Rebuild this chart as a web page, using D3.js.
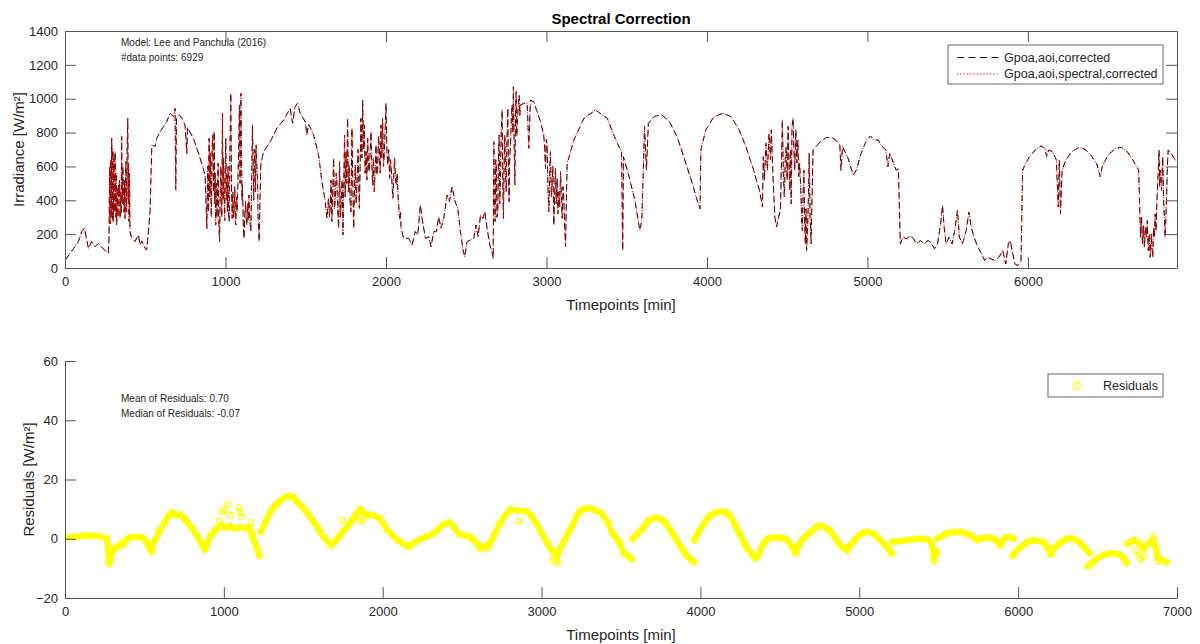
<!DOCTYPE html>
<html>
<head>
<meta charset="utf-8">
<script src="https://cdn.jsdelivr.net/npm/d3@7"></script>
<style>
  html, body { margin: 0; padding: 0; background: #fff; }
  svg { display: block; font-family: "Liberation Sans", Arial, Helvetica, sans-serif; }
</style>
</head>
<body>
<svg id="chart" width="1200" height="644"></svg>
<script>
// ---------------- DATA ----------------
const chartTitle = "Spectral Correction";
const seriesNames = ["Gpoa,aoi,corrected", "Gpoa,aoi,spectral,corrected"];
const residualName = "Residuals";
const topAnnotations = ["Model: Lee and Panchula (2016)", "#data points: 6929"];
const bottomAnnotations = ["Mean of Residuals: 0.70", "Median of Residuals: -0.07"];
const topXTicks = [0, 1000, 2000, 3000, 4000, 5000, 6000];
const topYTicks = [0, 200, 400, 600, 800, 1000, 1200, 1400];
const bottomXTicks = [0, 1000, 2000, 3000, 4000, 5000, 6000, 7000];
const bottomYTicks = [-20, 0, 20, 40, 60];

// rows: [timepoint (min), Gpoa,aoi,corrected, Gpoa,aoi,spectral,corrected]  (W/m²)
const irradiance = [
[4,50,50],[44,103,103],[83,156,156],[104,215,215],[121,234,234],[146,116,116],[166,156,156],[187,126,126],[208,146,146],[235,116,116],[260,96,96],[270,87,87],
[274,175,175],[278,600,600],[281,260,260],[285,640,640],[288,300,300],[291,766,766],[295,280,280],[298,700,700],[301,274,274],[305,650,650],[308,330,330],[312,687,687],[316,300,300],[319,560,560],[322,254,254],[326,480,480],[330,300,300],[333,490,490],[337,420,420],[340,520,520],[343,293,293],[347,450,450],[350,320,320],[353,776,776],[357,380,380],[360,600,600],[364,451,451],[368,330,330],[371,520,520],[374,293,293],[377,560,560],[380,628,628],[384,330,330],[387,700,700],[391,884,884],[394,400,400],[396,620,620],[399,274,274],[402,560,560],[405,215,215],
[416,175,175],[436,156,156],[457,195,195],[468,136,136],[478,160,160],[499,116,116],[509,106,106],[520,215,215],[530,333,333],[541,727,727],[561,717,717],[572,766,766],[593,805,805],[634,864,864],[655,914,914],[676,894,894],[686,943,943],[690,461,461],[695,884,884],[713,904,904],[728,884,884],[748,845,845],[759,677,677],[763,830,830],[800,766,766],[842,648,648],[873,549,549],
[884,234,234],[889,600,600],[893,330,330],[898,766,766],[902,420,420],[905,680,680],[908,490,490],[912,300,300],[916,700,700],[921,786,786],[925,450,450],[929,805,805],[933,380,380],[936,560,560],[939,254,254],[943,500,500],[947,300,300],[950,411,411],[954,620,620],[958,280,280],[963,156,156],[967,420,420],[970,600,600],[973,510,510],[977,300,300],[981,914,914],[985,400,400],[988,650,650],[991,490,490],[995,280,280],[999,600,600],[1002,766,766],[1006,400,400],[1009,550,550],[1012,333,333],[1016,600,600],[1020,300,300],[1023,274,274],[1028,700,700],[1033,1032,1032],[1037,500,500],[1042,293,293],[1046,450,450],[1050,300,300],[1054,352,352],[1058,480,480],[1061,280,280],[1064,254,254],[1068,420,420],[1072,330,330],[1077,490,490],[1082,700,700],[1087,963,963],[1091,500,500],[1096,1032,1032],[1100,650,650],[1103,400,400],[1106,490,490],[1110,300,300],[1113,200,200],[1116,175,175],[1120,300,300],[1125,392,392],[1129,300,300],[1133,254,254],[1138,380,380],[1142,280,280],[1146,431,431],[1150,320,320],[1154,260,260],[1158,215,215],[1163,500,500],[1168,845,845],[1172,650,650],[1176,400,400],[1179,589,589],[1183,700,700],[1187,450,450],[1191,727,727],[1195,600,600],[1199,549,549],[1203,300,300],[1207,220,220],[1210,156,156],[1215,400,400],[1220,608,608],
[1237,687,687],[1279,746,746],[1320,825,825],[1362,874,874],[1403,943,943],[1418,855,855],[1434,953,953],[1449,973,973],[1466,914,914],[1497,864,864],[1507,786,786],[1518,850,850],[1549,786,786],[1580,668,668],[1601,510,510],[1622,392,392],[1632,293,293],
[1642,411,411],[1648,300,300],[1653,372,372],[1658,520,520],[1663,274,274],[1668,450,450],[1674,648,648],[1679,350,350],[1684,400,400],[1690,560,560],[1695,490,490],[1700,320,320],[1705,234,234],[1708,450,450],[1711,628,628],[1716,300,300],[1722,400,400],[1727,520,520],[1732,195,195],[1737,500,500],[1742,786,786],[1746,420,420],[1751,687,687],[1756,500,500],[1761,884,884],[1766,450,450],[1771,608,608],[1776,400,400],[1782,333,333],[1785,600,600],[1788,825,825],[1794,450,450],[1799,234,234],[1804,480,480],[1809,608,608],[1814,380,380],[1819,490,490],[1826,700,700],[1834,352,352],[1839,600,600],[1844,884,884],[1850,650,650],[1855,992,992],[1860,700,700],[1865,845,845],[1870,560,560],[1876,687,687],[1881,520,520],[1886,766,766],[1891,600,600],[1896,569,569],[1902,700,700],[1907,805,805],[1912,620,620],[1917,490,490],[1922,650,650],[1927,451,451],[1933,600,600],[1938,727,727],[1943,550,550],[1948,589,589],[1954,780,780],[1959,687,687],[1964,560,560],[1969,845,845],[1974,650,650],[1979,884,884],[1985,600,600],[1990,687,687],[1995,820,820],[2000,973,973],[2006,700,700],[2011,608,608],[2017,700,700],[2023,530,530],[2028,640,640],[2033,589,589],[2039,470,470],[2044,411,411],[2049,560,560],[2054,648,648],[2060,520,520],[2065,490,490],[2070,560,560],[2075,431,431],[2080,360,360],[2085,293,293],[2090,330,330],[2094,234,234],
[2110,175,175],[2142,175,175],[2162,136,136],[2183,215,215],[2198,195,195],[2214,372,372],[2225,293,293],[2246,175,175],[2266,185,185],[2281,126,126],[2298,215,215],[2314,215,215],[2329,303,303],[2343,234,234],[2360,293,293],[2381,431,431],[2395,392,392],[2412,480,480],[2428,402,402],[2447,352,352],[2464,215,215],[2480,106,106],[2491,67,67],[2505,156,156],[2526,165,165],[2547,175,175],[2561,254,254],[2574,185,185],[2589,313,313],[2605,293,293],[2616,333,333],[2630,234,234],[2647,136,136],[2661,96,96],[2668,57,57],
[2672,746,746],[2676,420,420],[2680,274,274],[2684,640,640],[2688,589,589],[2692,300,300],[2697,333,333],[2701,650,650],[2705,786,786],[2709,380,380],[2713,490,490],[2718,800,800],[2724,933,933],[2728,500,500],[2732,293,293],[2736,600,600],[2740,786,786],[2745,560,560],[2749,451,451],[2754,750,750],[2759,943,943],[2763,600,600],[2767,392,392],[2771,650,650],[2776,727,727],[2781,880,880],[2786,963,963],[2790,800,800],[2794,1071,1071],[2799,700,700],[2803,490,490],[2807,900,900],[2811,1042,1042],[2815,780,780],[2819,884,884],[2825,960,960],[2830,1022,1022],[2834,900,900],[2838,963,963],
[2859,973,973],[2880,973,973],[2890,707,707],[2900,992,992],[2921,982,982],[2942,923,923],[2963,864,864],[2983,786,786],
[2989,700,700],[2994,589,589],[2999,760,760],[3004,727,727],[3009,480,480],[3015,333,333],[3020,560,560],[3025,687,687],[3030,420,420],[3035,490,490],[3040,600,600],[3046,254,254],[3051,420,420],[3056,589,589],[3061,380,380],[3067,530,530],[3072,320,320],[3077,451,451],[3082,360,360],[3088,569,569],[3093,420,420],[3098,293,293],[3103,480,480],[3108,411,411],[3113,260,260],[3119,126,126],[3124,400,400],[3129,618,618],
[3171,756,756],[3233,884,884],[3306,933,933],[3379,884,884],[3432,756,756],[3468,687,687],[3475,103,103],[3480,657,657],[3515,539,539],[3551,400,400],[3575,261,261],[3582,222,222],[3594,281,281],[3600,459,459],[3611,836,836],[3623,578,578],[3635,855,855],
[3671,895,895],[3718,905,905],[3766,865,865],[3814,776,776],[3862,638,638],[3909,499,499],[3945,380,380],[3957,350,350],[3962,697,697],[3993,816,816],[4041,891,891],[4100,915,915],[4148,895,895],[4196,826,826],[4243,717,717],[4291,578,578],[4327,459,459],[4346,360,360],
[4351,657,657],[4358,519,519],[4368,737,737],[4377,578,578],[4387,796,796],[4396,638,638],[4401,816,816],[4411,558,558],[4423,301,301],[4434,242,242],[4446,301,301],[4458,341,341],[4470,875,875],[4476,560,560],[4482,420,420],[4488,640,640],[4494,717,717],[4500,520,520],[4506,836,836],[4511,620,620],[4516,459,459],[4521,700,700],[4525,380,380],[4530,836,836],[4537,885,885],[4542,700,700],[4547,578,578],[4554,816,816],[4560,620,620],[4566,756,756],[4572,540,540],[4578,618,618],[4585,459,459],[4590,300,300],[4594,222,222],[4599,420,420],[4604,578,578],[4608,300,300],[4613,143,143],[4617,350,350],[4621,103,103],[4628,261,261],[4633,450,450],[4637,677,677],[4643,300,300],[4649,143,143],[4655,420,420],[4661,697,697],
[4697,737,737],[4745,772,772],[4793,766,766],[4828,727,727],[4835,578,578],[4845,717,717],[4876,657,657],[4912,548,548],[4931,578,578],[4960,677,677],[4995,756,756],[5019,780,780],[5043,756,756],[5067,756,756],[5091,717,717],[5115,697,697],[5127,598,598],[5139,677,677],[5163,618,618],[5179,578,578],[5193,588,588],
[5205,143,143],[5222,182,182],[5246,172,172],[5265,192,192],[5289,172,172],[5306,143,143],[5330,162,162],[5354,143,143],[5378,162,162],[5394,152,152],[5418,113,113],[5437,143,143],[5456,261,261],[5468,370,370],[5478,242,242],[5490,143,143],[5509,182,182],[5528,143,143],[5544,222,222],[5561,341,341],[5573,182,182],[5592,143,143],[5616,222,222],[5632,331,331],[5647,242,242],[5664,182,182],[5688,123,123],[5712,83,83],[5731,44,44],[5747,63,63],[5771,53,53],[5795,44,44],[5819,63,63],[5843,103,103],[5862,24,24],[5878,143,143],[5890,162,162],[5902,103,103],[5919,24,24],[5938,14,14],[5957,44,44],
[5967,578,578],[5986,618,618],[6010,657,657],[6046,697,697],[6081,721,721],[6105,707,707],[6117,657,657],[6129,697,697],[6153,687,687],[6177,638,638],[6189,360,360],[6196,638,638],[6203,321,321],[6213,578,578],[6237,638,638],[6273,687,687],[6320,713,713],[6356,701,701],[6392,667,667],[6428,618,618],[6451,539,539],[6463,598,598],[6499,667,667],[6547,707,707],[6583,713,713],[6619,687,687],[6654,638,638],[6690,578,578],
[6702,182,182],[6708,300,300],[6714,143,143],[6720,250,250],[6726,123,123],[6732,240,240],[6738,182,182],[6744,280,280],[6750,103,103],[6756,200,200],[6762,63,63],[6769,202,202],[6773,120,120],[6778,63,63],[6783,240,240],[6788,182,182],[6793,320,320],[6798,222,222],[6804,400,400],[6810,519,519],[6817,697,697],[6821,480,480],[6826,578,578],[6833,459,459],[6840,657,657],[6845,420,420],[6850,300,300],[6855,182,182],[6860,300,300],[6864,420,420],[6869,600,600],[6874,697,697],[6893,677,677],[6917,638,638],[6929,628,628]
];

// residual band, one list per continuous stretch: [timepoint (min), residual (W/m²)]
const residualSegments = [
[[0,0.3],[60,0.6],[120,1.1],[170,1.0],[217,0.9],[265,0],[272,-4],[277,-7.7],[285,-6],[295,-4.5],[313,-3.3],[340,-2.2],[361,-1.6],[385,-0.5],[410,0.5],[445,0.6],[482,0.5],[505,-0.5],[518,-1.6],[530,-2.8],[542,-3.8],[552,-2],[566,-0.5],[595,2.6],[627,5.5],[650,7.5],[675,8.8],[700,8.0],[723,8.2],[745,7.2],[771,5.5],[800,3.5],[831,1.1],[855,-1.2],[880,-3.6],[897,-1.5],[916,1.1],[940,2.5],[964,3.8],[990,4.5],[1012,3.8],[1040,4.2],[1070,3.5],[1100,3.8],[1130,3.6],[1157,3.8],[1175,1.5],[1193,-1.1],[1210,-3.5],[1224,-5.7]],
[[1234,2.4],[1260,5.5],[1289,8.8],[1320,11],[1349,12.6],[1380,13.8],[1410,14.5],[1435,14],[1458,12.6],[1490,11],[1518,9.3],[1555,6.5],[1590,3.8],[1630,0.5],[1675,-2.2],[1700,-0.8],[1723,0.5],[1750,2.5],[1783,4.4],[1810,6.5],[1835,8.5],[1855,9.9],[1880,8.8],[1904,8.2],[1940,7.8],[1976,7.1],[2000,5.5],[2024,3.3],[2060,1.2],[2096,-0.5],[2130,-1.8],[2169,-2.7],[2200,-1.2],[2241,0],[2280,0.8],[2313,1.6],[2350,3.2],[2386,4.9],[2422,5.5],[2450,3.8],[2482,1.6],[2520,1.0],[2554,0.5],[2585,-1.2],[2614,-2.7],[2645,-2.5],[2675,-1.6],[2705,1.5],[2735,4.9],[2770,7.8],[2807,9.9],[2850,9.5],[2904,9.3],[2935,7.8],[2964,5.5],[3000,2.0],[3036,-1.6],[3066,-4],[3096,-6],[3120,-3],[3145,-0.5],[3170,2.0],[3193,4.4],[3220,7.5],[3241,9.3],[3265,10],[3289,10.4],[3330,9.8],[3373,8.8],[3417,5.5],[3446,1.8],[3489,-1.1],[3518,-4.9],[3545,-5.8],[3566,-6.8]],
[[3573,0],[3600,1.5],[3634,3.3],[3670,6],[3700,6.8],[3730,7.1],[3755,6.6],[3778,5.5],[3815,2.5],[3851,-0.5],[3880,-3],[3911,-5.5],[3940,-7],[3959,-7.9]],
[[3962,-0.5],[3990,2.5],[4019,4.9],[4055,7.5],[4092,8.8],[4140,9.3],[4165,8.8],[4188,7.7],[4220,4.5],[4248,1.6],[4275,-1.5],[4296,-3.3],[4320,-5],[4345,-6.6],[4360,-6],[4381,-3.3],[4405,-1],[4429,0.2],[4465,0.4],[4501,0.5],[4525,0],[4549,-0.5],[4575,-2.5],[4598,-4.4],[4620,-2],[4646,0],[4670,1.2],[4694,2.2],[4725,3.8],[4754,4.4],[4785,3.8],[4814,2.7],[4845,0.5],[4875,-1.6],[4900,-3],[4923,-3.8],[4945,-2.2],[4971,-0.5],[5000,1.2],[5031,2.2],[5060,2.3],[5092,1.6],[5120,0.2],[5152,-1.6],[5180,-3.2],[5205,-4.9]],
[[5207,-1.1],[5250,-0.8],[5296,-0.5],[5330,-0.3],[5369,0],[5405,-0.2],[5441,-0.5],[5458,-2],[5470,-6.6],[5480,-4],[5489,-5]],
[[5492,0.2],[5525,1],[5561,2],[5600,2.2],[5634,2.4],[5670,1.8],[5706,1.1],[5742,-0.5],[5770,0.2],[5802,0.5],[5830,0.2],[5851,-0.2],[5870,-1],[5887,-2.2],[5905,-0.5],[5923,0.5],[5950,0.6],[5971,0]],
[[5966,-5.7],[5990,-4],[6019,-2.7],[6055,-1.2],[6092,-0.5],[6130,-0.8],[6164,-1.3],[6185,-3],[6207,-5.3],[6230,-3],[6260,-1.6],[6295,-0.3],[6333,0.2],[6365,-0.5],[6393,-1.6],[6420,-3],[6449,-4.9]],
[[6441,-9.3],[6470,-7.9],[6501,-6.6],[6535,-5.5],[6573,-4.9],[6610,-5],[6634,-5.3],[6660,-6.2],[6682,-8.2]],
[[6689,-1.6],[6710,-1],[6730,-0.5],[6760,-1.5],[6790,-3.3],[6820,-1.5],[6851,-0.5],[6865,-3],[6875,-6],[6900,-7],[6935,-7.9]]
];
// isolated residual markers standing off the band
const residualOutliers = [
[278,-8.5],[283,-7.5],[290,-5.5],[365,-2],[548,-4.5],[971,6],[992,9],[1000,9.8],[1024,11.5],[1040,8],[1096,10.4],[1104,9],[1110,7.5],[1170,5.5],[1180,2],[1748,6.2],[1830,7.5],[1860,6],[1880,6.5],[2614,-3.5],[2660,-3.3],[2860,6],[3070,-7],[3090,-7.5],[3100,-8],[4580,-3],[4600,-5],[5470,-7.5],[5478,-5.5],[6740,-4],[6760,-5.5],[6770,-7],[6790,-6],[6850,0.8],[6880,-7.5]
];

// ---------------- DRAWING ----------------
const svg = d3.select("#chart");
const axisColor = "#555";
const textColor = "#262626";
const tickLen = 11;

const L = 65, R = 1177;
const topT = 31, topB = 268;
const botT = 361, botB = 598;

const x1 = d3.scaleLinear().domain([0, 6929]).range([L, R]);
const y1 = d3.scaleLinear().domain([0, 1400]).range([topB, topT]);
const x2 = d3.scaleLinear().domain([0, 7000]).range([L, R]);
const y2 = d3.scaleLinear().domain([-20, 60]).range([botB, botT]);

const defs = svg.append("defs");
defs.append("clipPath").attr("id", "clipTop").append("rect")
  .attr("x", L).attr("y", topT).attr("width", R - L).attr("height", topB - topT);
defs.append("clipPath").attr("id", "clipBot").append("rect")
  .attr("x", L).attr("y", botT - 5).attr("width", R - L + 6).attr("height", botB - botT + 5);

function styleAxis(g, showLabels) {
  g.selectAll(".domain").attr("stroke", axisColor).attr("stroke-width", 1);
  g.selectAll(".tick line").attr("stroke", axisColor).attr("stroke-width", 1);
  g.selectAll(".tick text").attr("fill", textColor).attr("font-size", "13px")
    .attr("font-family", "'Liberation Sans', Arial, sans-serif");
  if (!showLabels) g.selectAll(".tick text").remove();
}

// ---- Top panel ----
const gTop = svg.append("g");
gTop.append("rect").attr("x", L).attr("y", topT).attr("width", R - L).attr("height", topB - topT)
  .attr("fill", "#fff");

const lineAoi = d3.line().x(d => x1(d[0])).y(d => y1(d[1]));
const lineSpec = d3.line().x(d => x1(d[0])).y(d => y1(d[2]));

const plotTop = gTop.append("g").attr("clip-path", "url(#clipTop)");
plotTop.append("path").datum(irradiance).attr("d", lineAoi)
  .attr("fill", "none").attr("stroke", "#000").attr("stroke-width", 1)
  .attr("stroke-dasharray", "6,4").attr("stroke-linejoin", "round");
plotTop.append("path").datum(irradiance).attr("d", lineSpec)
  .attr("fill", "none").attr("stroke", "#ff0000").attr("stroke-width", 1)
  .attr("stroke-dasharray", "1.3,2");

gTop.append("g").attr("transform", `translate(0,${topB})`)
  .call(d3.axisBottom(x1).tickValues(topXTicks).tickFormat(d3.format("d")).tickSizeInner(-tickLen).tickSizeOuter(0).tickPadding(9))
  .call(g => styleAxis(g, true));
gTop.append("g").attr("transform", `translate(0,${topT})`)
  .call(d3.axisTop(x1).tickValues(topXTicks).tickSizeInner(-tickLen).tickSizeOuter(0))
  .call(g => styleAxis(g, false));
gTop.append("g").attr("transform", `translate(${L},0)`)
  .call(d3.axisLeft(y1).tickValues(topYTicks).tickFormat(d3.format("d")).tickSizeInner(-tickLen).tickSizeOuter(0).tickPadding(7))
  .call(g => styleAxis(g, true));
gTop.append("g").attr("transform", `translate(${R},0)`)
  .call(d3.axisRight(y1).tickValues(topYTicks).tickSizeInner(-tickLen).tickSizeOuter(0))
  .call(g => styleAxis(g, false));

svg.append("text").attr("x", (L + R) / 2).attr("y", 18).attr("text-anchor", "middle")
  .attr("dominant-baseline", "central").attr("font-size", "15px").attr("font-weight", "bold")
  .attr("fill", "#000").text(chartTitle);
svg.append("text").attr("x", (L + R) / 2).attr("y", 304).attr("text-anchor", "middle")
  .attr("dominant-baseline", "central").attr("font-size", "15px").attr("fill", textColor)
  .text("Timepoints [min]");
svg.append("text").attr("transform", `translate(18,${(topT + topB) / 2}) rotate(-90)`)
  .attr("text-anchor", "middle").attr("dominant-baseline", "central")
  .attr("font-size", "15px").attr("fill", textColor).text("Irradiance [W/m²]");

topAnnotations.forEach((t, i) => {
  svg.append("text").attr("x", 121).attr("y", 42 + i * 15).attr("dominant-baseline", "central")
    .attr("font-size", "10px").attr("fill", textColor).text(t);
});

// legend top
const lgTop = svg.append("g");
lgTop.append("rect").attr("x", 948).attr("y", 45).attr("width", 215).attr("height", 39)
  .attr("fill", "#fff").attr("stroke", "#666").attr("stroke-width", 1);
lgTop.append("line").attr("x1", 957).attr("x2", 999).attr("y1", 57.5).attr("y2", 57.5)
  .attr("stroke", "#000").attr("stroke-width", 1).attr("stroke-dasharray", "7,4.5");
lgTop.append("line").attr("x1", 957).attr("x2", 999).attr("y1", 74).attr("y2", 74)
  .attr("stroke", "#ff0000").attr("stroke-width", 1).attr("stroke-dasharray", "1.3,2");
seriesNames.forEach((n, i) => {
  lgTop.append("text").attr("x", 1004).attr("y", 57.5 + i * 16.5).attr("dominant-baseline", "central")
    .attr("font-size", "12.5px").attr("fill", textColor).text(n);
});

// ---- Bottom panel ----
const gBot = svg.append("g");
const plotBot = gBot.append("g").attr("clip-path", "url(#clipBot)");
const lineRes = d3.line().x(d => x2(d[0])).y(d => y2(d[1]));
plotBot.selectAll("path.band").data(residualSegments).join("path").attr("class", "band")
  .attr("d", lineRes).attr("fill", "none").attr("stroke", "#ffff00").attr("stroke-width", 6)
  .attr("stroke-linejoin", "round").attr("stroke-linecap", "round");
plotBot.selectAll("circle.pt").data(residualSegments.flat().concat(residualOutliers)).join("circle")
  .attr("class", "pt").attr("cx", d => x2(d[0])).attr("cy", d => y2(d[1])).attr("r", 2.8)
  .attr("fill", "none").attr("stroke", "#ffff00").attr("stroke-width", 1.3);

gBot.append("g").attr("transform", `translate(0,${botB})`)
  .call(d3.axisBottom(x2).tickValues(bottomXTicks).tickFormat(d3.format("d")).tickSizeInner(-tickLen).tickSizeOuter(0).tickPadding(9))
  .call(g => styleAxis(g, true));
gBot.append("g").attr("transform", `translate(${L},0)`)
  .call(d3.axisLeft(y2).tickValues(bottomYTicks).tickFormat(d3.format("d")).tickSizeInner(-tickLen).tickSizeOuter(0).tickPadding(7))
  .call(g => styleAxis(g, true));

svg.append("text").attr("x", (L + R) / 2).attr("y", 634).attr("text-anchor", "middle")
  .attr("dominant-baseline", "central").attr("font-size", "15px").attr("fill", textColor)
  .text("Timepoints [min]");
svg.append("text").attr("transform", `translate(28,${(botT + botB) / 2}) rotate(-90)`)
  .attr("text-anchor", "middle").attr("dominant-baseline", "central")
  .attr("font-size", "15px").attr("fill", textColor).text("Residuals [W/m²]");

bottomAnnotations.forEach((t, i) => {
  svg.append("text").attr("x", 121).attr("y", 398 + i * 15).attr("dominant-baseline", "central")
    .attr("font-size", "10px").attr("fill", textColor).text(t);
});

const lgBot = svg.append("g");
lgBot.append("rect").attr("x", 1048).attr("y", 374).attr("width", 115).attr("height", 23)
  .attr("fill", "#fff").attr("stroke", "#666").attr("stroke-width", 1);
lgBot.append("circle").attr("cx", 1077).attr("cy", 385.5).attr("r", 3.5)
  .attr("fill", "none").attr("stroke", "#ffff00").attr("stroke-width", 1.4);
lgBot.append("text").attr("x", 1103).attr("y", 385.5).attr("dominant-baseline", "central")
  .attr("font-size", "12.5px").attr("fill", textColor).text(residualName);
</script>
</body>
</html>
